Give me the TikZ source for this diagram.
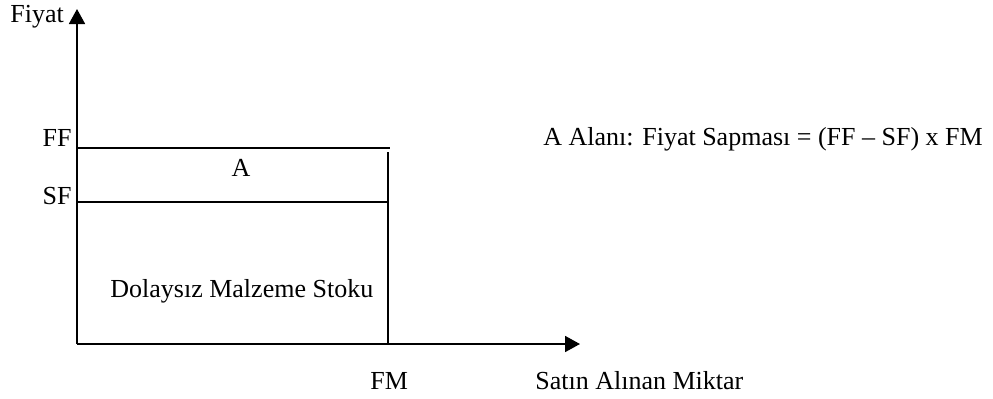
\documentclass[tikz,border=0pt]{standalone}
\usepackage{fontspec}
\setmainfont{Liberation Serif}
\usetikzlibrary{arrows.meta}
\begin{document}
\begin{tikzpicture}[x=0.5pt,y=-0.5pt,
  axis/.style={line width=0.9pt,-{Triangle[length=7.5pt,width=8pt]}},
  edge/.style={line width=0.9pt},
  lbl/.style={inner sep=0pt,font=\fontsize{13}{15}\selectfont}]
  \useasboundingbox (0,0) rectangle (993,398);
  % axes
  \coordinate (O) at (77,344);
  \coordinate (ytip) at (77,9);
  \coordinate (xtip) at (580,344);
  \draw[axis] (O) -- (ytip);
  \draw[axis] (O) -- (xtip);
  % price levels and purchased quantity
  \coordinate (FFl) at (77,148);
  \coordinate (FFr) at (390,148);
  \coordinate (SFl) at (77,202);
  \coordinate (SFr) at (388,202);
  \coordinate (Rtop) at (388,152);
  \coordinate (Rbot) at (388,344);
  \draw[edge] (FFl) -- (FFr);
  \draw[edge] (SFl) -- (SFr);
  \draw[edge] (Rtop) -- (Rbot);
  \coordinate (m1) at (289,202);
  \coordinate (m2) at (295,202);
  \draw[line width=1.4pt] (m1) -- (m2);
  % labels
  \node[lbl,anchor=base west] (fiyat) at (10,22) {Fiyat};
  \node[lbl,anchor=base east] (ff) at (72,146) {FF};
  \node[lbl,anchor=base east] (sf) at (72,204) {SF};
  \node[lbl,anchor=base] (a) at (241,176) {A};
  \node[lbl,anchor=base west] (stok) at (110,297) {Dolaysız Malzeme Stoku};
  \node[lbl,anchor=base west] (fm) at (370,389) {FM};
  \node[lbl,anchor=base west] (miktar) at (535,389) {Satın Alınan Miktar};
  \node[lbl,anchor=base west] (formul) at (543,145) {A Alanı: Fiyat Sapması = (FF – SF) x FM};
\end{tikzpicture}
\end{document}
